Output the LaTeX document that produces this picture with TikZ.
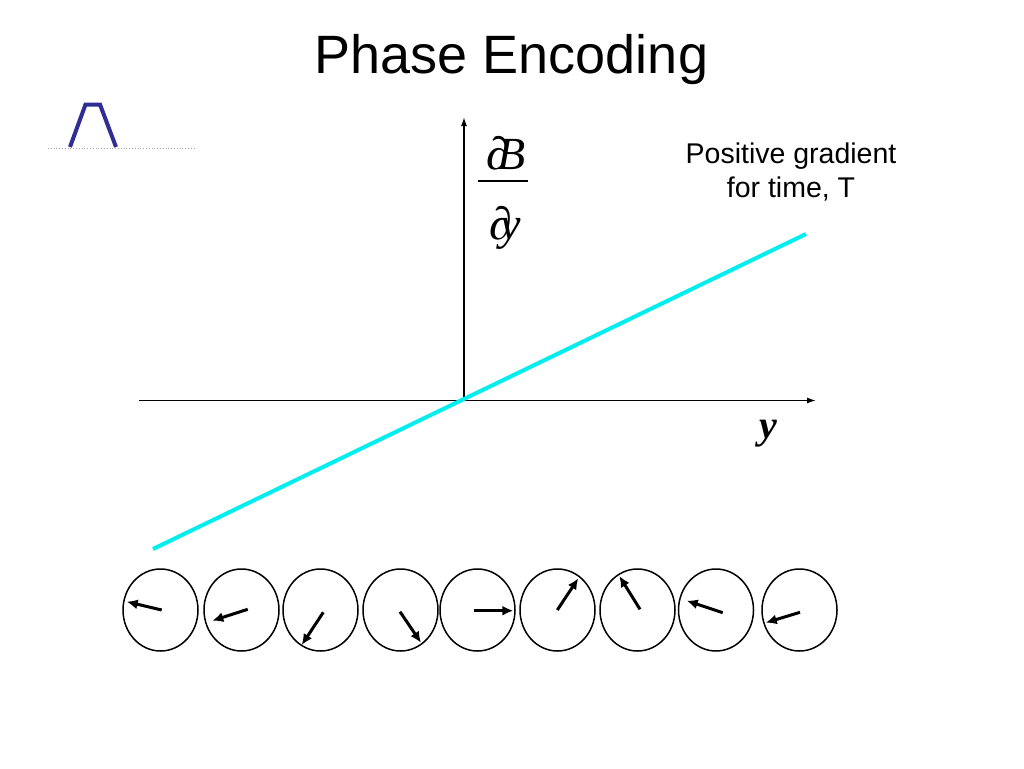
\documentclass[tikz,border=0pt]{standalone}
\usepackage{fontspec}
\setmainfont{Liberation Sans}
\newfontfamily\serifface{Liberation Serif}
\usetikzlibrary{arrows.meta,shapes.geometric}
\definecolor{navyline}{RGB}{46,46,150}
\definecolor{cyanline}{RGB}{0,238,238}
\tikzset{
  axis/.style={line width=1.5pt,-{Latex[length=9pt,width=6pt]}},
  spin/.style={draw,ellipse,line width=1.5pt,minimum width=75pt,minimum height=82pt,inner sep=0pt},
  vec/.style={line width=3pt,-{Latex[length=11pt,width=10pt]}},
  lbl/.style={inner sep=0pt,align=center}
}
\begin{document}
\begin{tikzpicture}[x=1pt,y=-1pt]
\useasboundingbox (0,0) rectangle (1024,768);
% title
\node[lbl,font=\fontsize{54}{58}\selectfont,anchor=base] (title) at (511.5,74) {Phase Encoding};
% icon
\coordinate (d1) at (48,148.5);
\coordinate (d2) at (195,148.5);
\draw[gray!70,line width=0.8pt,dotted] (d1) -- (d2);
\coordinate (p1) at (70,147);
\coordinate (p2) at (85.5,104.5);
\coordinate (p3) at (100,104.5);
\coordinate (p4) at (116,147);
\draw[navyline,line width=4pt,line join=miter] (p1) -- (p2) -- (p3) -- (p4);
% axes
\coordinate (o) at (464,400.5);
\coordinate (xl) at (139,400.5);
\coordinate (xr) at (816,400.5);
\coordinate (yt) at (464,117);
\draw[axis] (xl) -- (xr);
\draw[axis] (o) -- (yt);
% gradient line
\coordinate (g1) at (153,549);
\coordinate (g2) at (806,234);
\draw[cyanline,line width=4pt] (g1) -- (g2);
% labels
\node[lbl,font=\fontsize{28.5}{33.5}\selectfont,anchor=base] (pos) at (791,197) {Positive gradient\\for time, T};
\node[lbl,font=\serifface\bfseries\itshape\fontsize{40}{40}\selectfont] (ylab) at (768,434) {y};
\node[lbl,font=\serifface\fontsize{46}{46}\selectfont,anchor=base] (num) at (506,169) {∂\kern-0.24em\itshape B};
\coordinate (b1) at (478,181);
\coordinate (b2) at (528,181);
\draw[line width=2pt] (b1) -- (b2);
\node[lbl,font=\serifface\fontsize{46}{46}\selectfont,anchor=base] (den) at (505,239) {∂\kern-0.26em\itshape y};
% spins
\foreach \i/\cx in {1/160.5,2/241.5,3/320.5,4/400.5,5/477.5,6/557.5,7/637.5,8/716,9/799.5}{
  \node[spin] (c\i) at (\cx,610) {};
}
\draw[vec] ([shift={(1.2,0)}]c1.center) -- ([shift={(-33.8,-8.3)}]c1.center);
\draw[vec] ([shift={(6.2,-0.7)}]c2.center) -- ([shift={(-29.2,10.7)}]c2.center);
\draw[vec] ([shift={(2.8,2.3)}]c3.center) -- ([shift={(-18.8,35)}]c3.center);
\draw[vec] ([shift={(-0.5,1.7)}]c4.center) -- ([shift={(20.5,32.7)}]c4.center);
\draw[vec] ([shift={(-3.5,0.7)}]c5.center) -- ([shift={(35.8,0.7)}]c5.center);
\draw[vec] ([shift={(-0.2,0)}]c6.center) -- ([shift={(20.8,-31.7)}]c6.center);
\draw[vec] ([shift={(2.5,-0.7)}]c7.center) -- ([shift={(-18.2,-34)}]c7.center);
\draw[vec] ([shift={(6.7,2.7)}]c8.center) -- ([shift={(-29.3,-9.3)}]c8.center);
\draw[vec] ([shift={(0.5,2.3)}]c9.center) -- ([shift={(-33.8,12.7)}]c9.center);
\end{tikzpicture}
\end{document}
